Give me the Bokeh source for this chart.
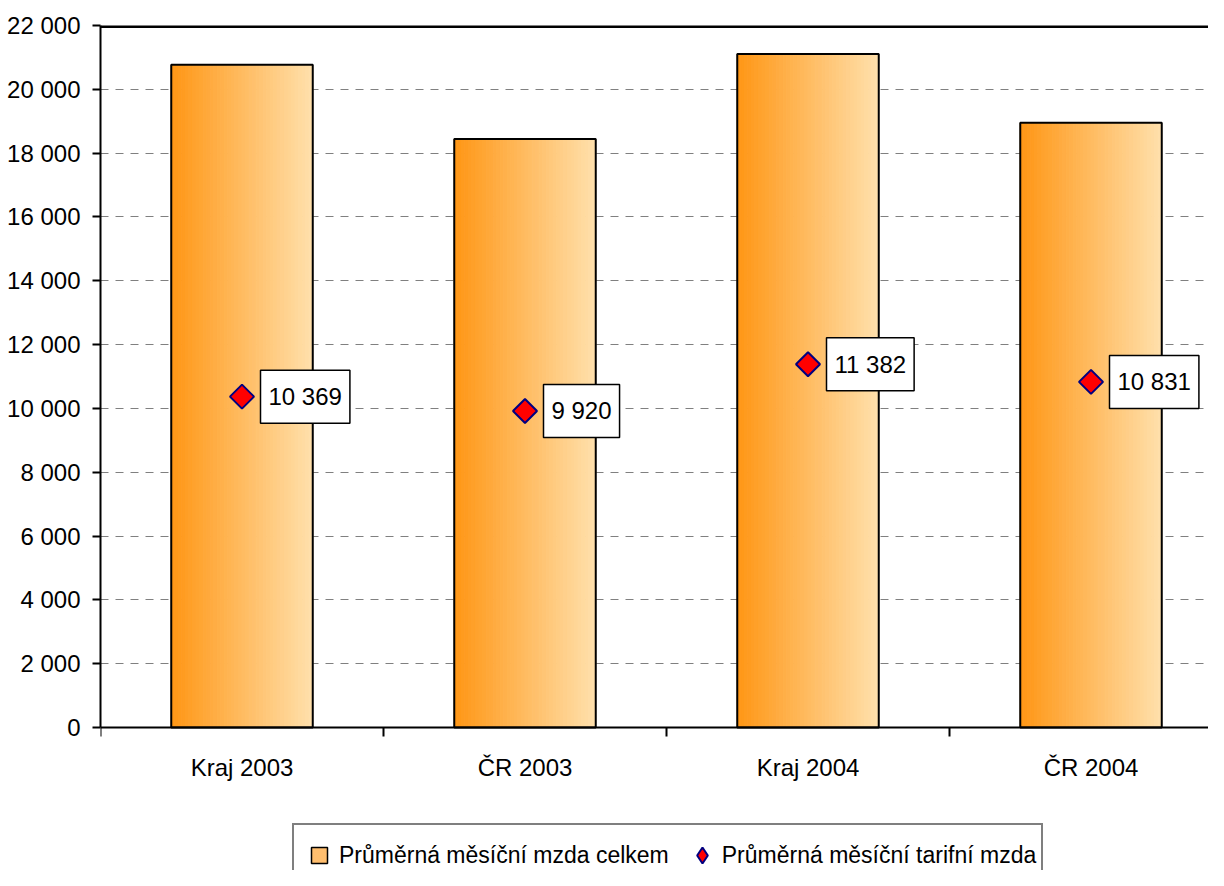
import numpy as np
from bokeh.plotting import figure
from bokeh.models import Range1d, FixedTicker, Span, Label, Legend, LegendItem, ColumnDataSource
from bokeh.embed import file_html
from bokeh.resources import INLINE

# ---- data ----
categories = ["Kraj 2003", "ČR 2003", "Kraj 2004", "ČR 2004"]
mzda_celkem = [20770, 18440, 21110, 18950]
mzda_tarifni = [10369, 9920, 11382, 10831]
series_names = ["Průměrná měsíční mzda celkem", "Průměrná měsíční tarifní mzda"]
y_ticks = [0, 2000, 4000, 6000, 8000, 10000, 12000, 14000, 16000, 18000, 20000, 22000]
y_tick_labels = ["0", "2 000", "4 000", "6 000", "8 000", "10 000", "12 000",
                 "14 000", "16 000", "18 000", "20 000", "22 000"]

FONT = "Liberation Sans"
FS = "24px"

n = len(categories)
xs = np.arange(n) + 0.5
bar_w = 0.5

W, H = 1208, 870
LEFT, TOP = 100, 25
PLOT_H = 702          # pixels from 0 to 22000
CAT_W = 283           # pixels per category
ymax = y_ticks[-1]
ymin = -(H - TOP - PLOT_H) * ymax / PLOT_H   # frame extends below zero for the legend

p = figure(width=W, height=H, output_backend="svg", toolbar_location=None,
           x_range=Range1d(0, (W - LEFT) / CAT_W), y_range=Range1d(ymin, ymax),
           min_border_left=LEFT, min_border_right=0, min_border_top=TOP, min_border_bottom=0)
p.outline_line_color = None
p.background_fill_color = "white"
p.border_fill_color = "white"

# legend proxies (drawn underneath and fully covered by the bars / markers)
sq_r = p.scatter(xs, np.array(mzda_celkem) / 2, marker="square", size=6,
                 fill_color="#FFBE6E", line_color="black", line_width=1.5)
dm_r = p.scatter(xs, mzda_tarifni, marker="diamond", size=6,
                 fill_color="#FF0000", line_color="#000080", line_width=2)

# gradient bars built from thin strips
N = 40
c0 = np.array([255, 150, 20])
c1 = np.array([255, 224, 172])
lefts, rights, tops, colors = [], [], [], []
for xc, v in zip(xs, mzda_celkem):
    for i in range(N):
        t = (i + 0.5) / N
        c = (c0 + (c1 - c0) * t).round().astype(int)
        lefts.append(xc - bar_w / 2 + i * bar_w / N)
        rights.append(xc - bar_w / 2 + (i + 1) * bar_w / N)
        tops.append(v)
        colors.append("#%02x%02x%02x" % tuple(c))
strip_src = ColumnDataSource(dict(left=lefts, right=rights, top=tops,
                                  bottom=[0] * len(tops), color=colors))
p.quad(left="left", right="right", top="top", bottom="bottom", source=strip_src,
       fill_color="color", line_color="color", line_width=1)
p.quad(left=xs - bar_w / 2, right=xs + bar_w / 2, top=mzda_celkem, bottom=0,
       fill_color=None, line_color="black", line_width=2)

# markers
p.scatter(xs, mzda_tarifni, marker="square", angle=np.pi / 4, size=17,
          fill_color="#FF0000", line_color="#000080", line_width=2)

# data labels
for xc, v in zip(xs, mzda_tarifni):
    txt = f"{v:,}".replace(",", " ")
    kw = dict(x=xc, y=v, text=txt, x_offset=18.5, text_align="left", text_baseline="middle",
              text_font=FONT, text_font_size=FS, text_color="black",
              background_fill_color="white", border_line_color="black", border_line_width=1.5)
    try:
        lab = Label(padding=(8, 13), **kw)
    except Exception:
        lab = Label(padding=8, **kw)
    p.add_layout(lab)

# top line
p.add_layout(Span(location=ymax, dimension="width", line_color="black", line_width=5))

# axes
p.xgrid.visible = False
p.ygrid.grid_line_color = "#808080"
p.ygrid.grid_line_dash = "8 7"
p.ygrid.grid_line_width = 1

p.yaxis.ticker = FixedTicker(ticks=y_ticks)
p.yaxis.bounds = (0, ymax)
p.yaxis.major_label_overrides = {t: l for t, l in zip(y_ticks, y_tick_labels)}
p.yaxis.major_tick_out = 8
p.yaxis.major_tick_in = 0
p.yaxis.minor_tick_line_color = None
p.yaxis.major_label_standoff = 12

p.xaxis.fixed_location = 0
p.xaxis.ticker = FixedTicker(ticks=list(xs), minor_ticks=list(np.arange(n)))
p.xaxis.major_label_overrides = {float(x): c for x, c in zip(xs, categories)}
p.xaxis.major_tick_out = 0
p.xaxis.major_tick_in = 0
p.xaxis.minor_tick_out = 9
p.xaxis.minor_tick_in = 0
p.xaxis.minor_tick_line_color = "black"
p.xaxis.minor_tick_line_width = 2
p.xaxis.major_label_standoff = 17

for ax in (p.xaxis, p.yaxis):
    ax.axis_line_color = "black"
    ax.axis_line_width = 2
    ax.major_tick_line_color = "black"
    ax.major_tick_line_width = 2
    ax.major_label_text_font = FONT
    ax.major_label_text_font_size = FS
    ax.major_label_text_color = "black"

legend = Legend(items=[LegendItem(label=series_names[0], renderers=[sq_r]),
                       LegendItem(label=series_names[1], renderers=[dm_r])],
                orientation="horizontal", location=(192, -17),
                glyph_width=40, glyph_height=50, label_standoff=0, spacing=13,
                padding=5, margin=0, border_line_color="black", border_line_width=2,
                background_fill_color="white", background_fill_alpha=1,
                label_text_font=FONT, label_text_font_size="23px", label_text_color="black")
p.add_layout(legend)

open("out.html", "w").write(file_html(p, INLINE))
